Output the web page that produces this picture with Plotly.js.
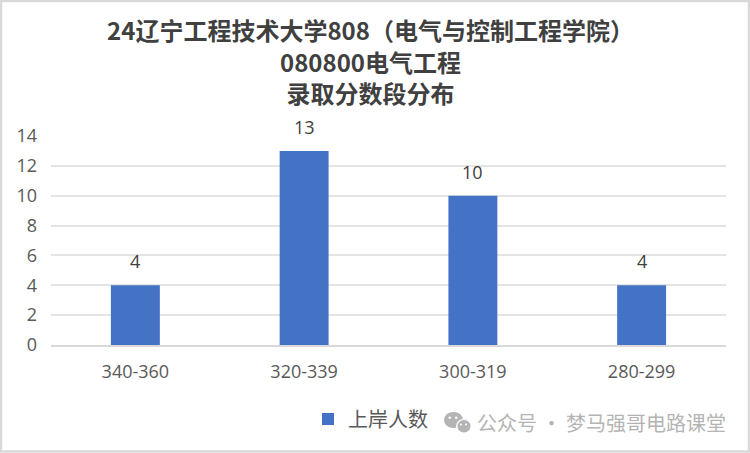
<!DOCTYPE html>
<html><head><meta charset="utf-8">
<script src="https://cdn.plot.ly/plotly-3.0.1.min.js"></script>
<style>html,body{margin:0;padding:0;background:#fff}</style></head>
<body><div id="c" style="width:750px;height:453px"></div>
<script>
const categories = ["340-360","320-339","300-319","280-299"];
const values = [4,13,10,4];
const seriesName = "上岸人数";
const titleLines = ["24辽宁工程技术大学808（电气与控制工程学院）","080800电气工程","录取分数段分布"];
const watermark = "公众号 · 梦马强哥电路课堂";
const F = '"Open Sans","Noto Sans CJK SC",sans-serif';
const T = '"Noto Sans CJK SC","Noto Sans",sans-serif';
const m = {l:51,r:24,t:136,b:108};
const W=750,H=453,pw=W-m.l-m.r,ph=H-m.t-m.b;
const px=x=>(x-m.l)/pw, py=y=>1-(y-m.t)/ph;
const circle=(x0,y0,x1,y1,c)=>({type:'circle',xref:'paper',yref:'paper',x0:px(x0),x1:px(x1),y0:py(y1),y1:py(y0),fillcolor:c,line:{width:0}});
const G='#B4B4B4';
Plotly.newPlot('c',[{
  type:'bar',x:categories,y:values,name:seriesName,
  marker:{color:'#4472C4'},width:0.29,showlegend:true,hoverinfo:'x+y'
}],{
  width:W,height:H,margin:m,
  paper_bgcolor:'#fff',plot_bgcolor:'#fff',
  title:{text:titleLines.map(s=>'<b>'+s+'</b>').join('<br>'),x:0.494,xanchor:'center',y:0.911,yanchor:'top',
    font:{size:24,color:'#404040',family:T}},
  xaxis:{tickfont:{size:18,color:'#595959',family:F},showline:true,linecolor:'#D9D9D9',linewidth:1.5,ticks:'',ticklabelstandoff:10,fixedrange:true},
  yaxis:{range:[0,14],dtick:2,tickfont:{size:18,color:'#595959',family:F},gridcolor:'#E4E4E4',gridwidth:1.5,zeroline:false,ticks:'',ticklabelstandoff:13,fixedrange:true},
  legend:{orientation:'h',x:px(308),xanchor:'left',y:py(419),yanchor:'middle',font:{size:20,color:'#595959',family:T}},
  annotations:categories.map((c,i)=>({x:c,y:values[i],text:String(values[i]),showarrow:false,yanchor:'middle',yshift:24,
      font:{size:18,color:'#404040',family:F}})).concat([
    {text:watermark,xref:'paper',yref:'paper',x:px(728),xanchor:'right',y:py(422),yanchor:'middle',showarrow:false,
      font:{size:20,color:G,family:T}}]),
  shapes:[
    {type:'rect',xref:'paper',yref:'paper',x0:px(1),x1:px(749),y0:py(451.5),y1:py(1),line:{color:'#D9D9D9',width:2.5},fillcolor:'rgba(0,0,0,0)'},
    circle(444,412,463,428,G),circle(456.5,419,471,433,G),
    circle(456,419,471.5,433.5,'#fff'),circle(457.5,420,470.5,432.5,G),
    circle(448.5,416.5,451,419,'#fff'),circle(455,416.5,457.5,419,'#fff'),
    circle(460,423.5,462,425.5,'#fff'),circle(465,423.5,467,425.5,'#fff')
  ]
},{displayModeBar:false});
</script></body></html>
